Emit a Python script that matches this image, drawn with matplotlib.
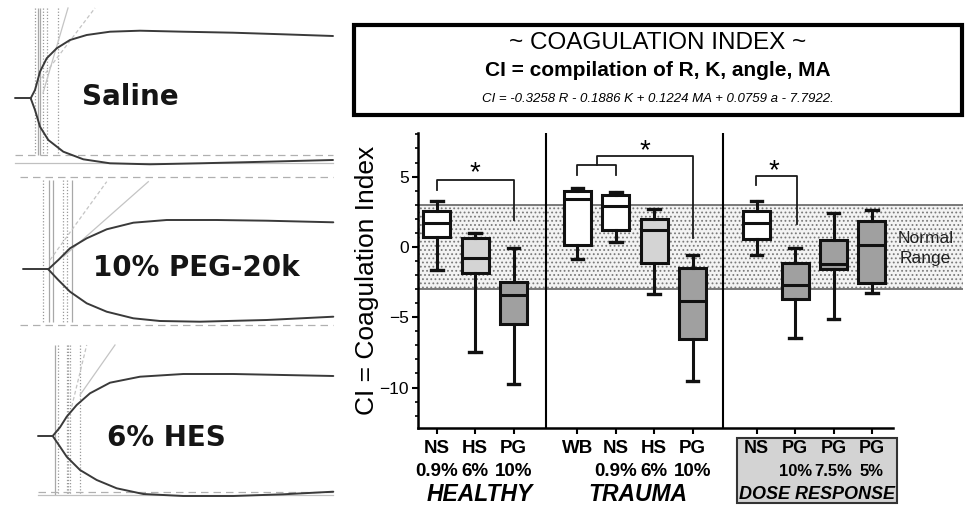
import matplotlib.pyplot as plt
from matplotlib import transforms
from matplotlib.patches import Rectangle

plt.rcParams['font.family'] = ['Liberation Sans', 'DejaVu Sans']
plt.rcParams['hatch.linewidth'] = 0.8

# ---- box plot data ----
fluids = ['NS', 'HS', 'PG', 'WB', 'NS', 'HS', 'PG', 'NS', 'PG', 'PG', 'PG']
doses = ['0.9%', '6%', '10%', '', '0.9%', '6%', '10%', '', '10%', '7.5%', '5%']
groups = ['HEALTHY', 'TRAUMA', 'DOSE RESPONSE']
whisker_hi = [3.24, 1.02, -0.07, 4.19, 3.90, 2.72, -0.59, 3.24, -0.07, 2.44, 2.60]
q3 = [2.53, 0.60, -2.48, 3.95, 3.71, 1.96, -1.49, 2.53, -1.13, 0.52, 1.82]
median = [1.70, -0.78, -3.42, 3.43, 2.89, 1.18, -3.83, 1.73, -2.72, -1.18, 0.17]
q1 = [0.67, -1.84, -5.50, 0.17, 1.21, -1.13, -6.57, 0.55, -3.73, -1.60, -2.60]
whisker_lo = [-1.65, -7.50, -9.76, -0.89, 0.36, -3.38, -9.57, -0.59, -6.45, -5.15, -3.31]
normal_range = (-3, 3)

# significance brackets and stars
bracket_x = [[1, 1, 3, 3], [4.66, 4.66, 5.66, 5.66], [5.16, 5.16, 7.66, 7.66], [9.3, 9.3, 10.37, 10.37]]
bracket_y = [[4.02, 4.78, 4.78, 1.90], [5.14, 5.80, 5.80, 5.14], [5.80, 6.46, 6.46, 0.64], [4.37, 5.04, 5.04, 1.66]]
star_x = [2.0, 6.42, 9.77]
star_y = [5.68, 7.25, 5.78]

# layout / style
positions = [1, 2, 3, 4.66, 5.66, 6.66, 7.66, 9.33, 10.33, 11.33, 12.33]
dividers = [3.84, 8.46]
box_fill = ['white', '#d4d4d4', '#a0a0a0', 'white', 'white', '#d4d4d4', '#a0a0a0',
            'white', '#a0a0a0', '#a0a0a0', '#a0a0a0']

# ---- TEG tracings (pixel coordinates) ----
saline_base = ([15, 30.7], [98.3, 98.3])
saline_up = ([30.7, 35, 40, 46.7, 56.7, 70, 86.7, 110, 140, 183, 233, 283, 333],
             [98.3, 90, 71.7, 58.3, 48.3, 40, 35, 31.7, 30.7, 31.7, 32.7, 34.3, 36])
saline_lo = ([30.7, 35, 40, 48.3, 63.3, 83.3, 110, 150, 200, 266.7, 333],
             [98.3, 110, 126.7, 140, 151.7, 159.3, 163.3, 164.3, 163.3, 161.7, 160])
peg_base = ([23.3, 48.3], [269.3, 269.3])
peg_up = ([48.3, 58.3, 70, 86.7, 106.7, 133.3, 166.7, 216.7, 266.7, 333.3],
          [269.3, 260, 248.3, 238.3, 229.3, 222.7, 220, 220, 220.7, 222.3])
peg_lo = ([48.3, 58.3, 70, 86.7, 106.7, 133.3, 160, 200, 266.7, 333.3],
          [269.3, 280, 291.7, 303.3, 311.7, 318.3, 321, 321.7, 320, 316.7])
hes_base = ([38.3, 52.7], [436, 436])
hes_up = ([52.7, 60, 66.7, 76.7, 90, 110, 140, 183.3, 233.3, 283.3, 333.3],
          [436, 427.3, 416.7, 405, 393.3, 382.7, 376.7, 374, 374, 375, 376])
hes_lo = ([52.7, 60, 66.7, 80, 96.7, 116.7, 143.3, 183.3, 233.3, 283.3, 333.3],
          [436, 446.7, 456.7, 470, 480, 488.3, 494, 496, 496, 494.3, 491.7])

teg_labels = ['Saline', '10% PEG-20k', '6% HES']
teg_label_xy = [(130, 96.7), (196.7, 268.3), (166.7, 438.3)]

# guide lines of the tracings: solid verticals, dotted verticals, y span
vert_solid = [[37.7, 40], [49.3, 53.3, 71.7], [55]]
vert_dotted = [[35, 43.3, 46.7, 58.3], [43.3, 63.3, 66.7], [58.3, 66.7, 68.3, 70, 80]]
vert_span = [(8, 155), (180, 321.7), (345, 495)]
hline_dashed = [([15, 333], 155), ([20, 333], 176.7), ([20, 333], 325), ([38, 333], 491.7)]
hline_solid = [([15, 333], 163.3), ([38, 333], 495)]
diag_solid = [([43, 68], [93, 8]), ([63.3, 148.3], [256.7, 181.7]), ([80, 115], [395, 345])]
diag_dashed = [([38, 95], [83, 8]), ([50, 106.7], [260, 181.7]), ([71.7, 86.7], [406.7, 345])]

fig = plt.figure(figsize=(9.65, 5.13), dpi=100)

# left side drawn in pixel space
axl = fig.add_axes([0, 0, 1, 1])
axl.set_xlim(0, 965)
axl.set_ylim(513, 0)
axl.axis('off')

for xs, (y0, y1) in zip(vert_solid, vert_span):
    axl.vlines(xs, y0, y1, color='#a8a8a8', lw=0.9)
for xs, (y0, y1) in zip(vert_dotted, vert_span):
    axl.vlines(xs, y0, y1, color='#9a9a9a', lw=0.9, linestyles=(0, (1, 1.5)))
for xs, y in hline_dashed:
    axl.plot(xs, [y, y], color='#b0b0b0', lw=0.9, ls=(0, (6, 4)))
for xs, y in hline_solid:
    axl.plot(xs, [y, y], color='#c0c0c0', lw=0.9)
for xs, ys in diag_solid:
    axl.plot(xs, ys, color='#c4c4c4', lw=0.9)
for xs, ys in diag_dashed:
    axl.plot(xs, ys, color='#c4c4c4', lw=0.9, ls=(0, (3, 2)))

for part in [saline_base, saline_up, saline_lo, peg_base, peg_up, peg_lo, hes_base, hes_up, hes_lo]:
    axl.plot(part[0], part[1], color='#3a3a3a', lw=1.4, solid_capstyle='round')

for lab, (x, y) in zip(teg_labels, teg_label_xy):
    axl.text(x, y, lab, fontsize=20, fontweight='bold', family='DejaVu Sans',
             color='#151515', ha='center', va='center')

# title box
axl.add_patch(Rectangle((354, 25), 608, 90, fc='white', ec='black', lw=3))
axl.text(658, 43.3, '~ COAGULATION INDEX ~', fontsize=17.5, ha='center', va='center')
axl.text(658, 70.5, 'CI = compilation of R, K, angle, MA', fontsize=15, fontweight='bold',
         ha='center', va='center')
axl.text(658, 99, 'CI = -0.3258 R - 0.1886 K + 0.1224 MA + 0.0759 a - 7.7922.',
         fontsize=9.5, style='italic', ha='center', va='center')

# ---- main box plot ----
ax = fig.add_axes([0.4335, 0.1651, 0.5644, 0.5756])
ax.patch.set_alpha(0)

ax.axhspan(normal_range[0], normal_range[1], facecolor='#f3f3f3', edgecolor='#7a7a7a',
           hatch='....', lw=0, zorder=0)
for y in normal_range:
    ax.axhline(y, color='#707070', lw=1.3, zorder=0.5)

stats = []
for i in range(len(fluids)):
    stats.append({'med': median[i], 'q1': q1[i], 'q3': q3[i],
                  'whislo': whisker_lo[i], 'whishi': whisker_hi[i], 'fliers': []})

bp = ax.bxp(stats, positions=positions, widths=0.7, patch_artist=True, showfliers=False,
            boxprops=dict(lw=2.2, edgecolor='#111111'),
            medianprops=dict(lw=2.2, color='#111111'),
            whiskerprops=dict(lw=2.2, color='#111111'),
            capprops=dict(lw=2.4, color='#111111'),
            capwidths=0.3, manage_ticks=False)
for patch, c in zip(bp['boxes'], box_fill):
    patch.set_facecolor(c)
    patch.set_zorder(2)

for d in dividers:
    ax.axvline(d, color='black', lw=1.5, zorder=1)

for bx, by in zip(bracket_x, bracket_y):
    ax.plot(bx, by, color='#1a1a1a', lw=1.3, zorder=3)
star_tr = transforms.offset_copy(ax.transData, fig=fig, y=-6, units='dots')
for sx, sy in zip(star_x, star_y):
    ax.text(sx, sy, '*', fontsize=20, ha='center', va='center', transform=star_tr)

ax.text(13.72, 0.63, 'Normal', fontsize=12.5, color='#222222', ha='center', va='center')
ax.text(13.72, -0.8, 'Range', fontsize=12.5, color='#222222', ha='center', va='center')

ax.set_xlim(0.52, 14.7)
ax.set_ylim(-12.9, 8.1)
ax.set_yticks([-10, -5, 0, 5])
ax.set_yticks(range(-12, 9), minor=True)
ax.set_xticks(positions)
ax.set_xticklabels([])
ax.tick_params(axis='y', which='major', length=4, width=1.5, labelsize=12.5, pad=3)
ax.tick_params(axis='y', which='minor', length=2.5, width=1.2)
ax.tick_params(axis='x', length=4, width=1.5)
for s in ['top', 'right']:
    ax.spines[s].set_visible(False)
ax.spines['left'].set_linewidth(1.8)
ax.spines['bottom'].set_linewidth(1.8)
ax.spines['bottom'].set_bounds(0.52, 12.89)

fig.text(367 / 965, 1 - 280 / 513, 'CI = Coagulation Index', fontsize=19, rotation=90,
         ha='center', va='center')

# category labels under the axis
trans = transforms.blended_transform_factory(ax.transData, fig.transFigure)
ax.add_patch(Rectangle((8.81, 0.0189), 4.17, 0.1267, transform=trans, clip_on=False,
                       fc='#d3d3d3', ec='#333333', lw=1.5, zorder=1))
for i, (p, f, d) in enumerate(zip(positions, fluids, doses)):
    small = i >= 7
    ax.text(p, 0.1261, f, transform=trans, fontsize=13 if small else 13.5, fontweight='bold',
            ha='center', va='center')
    if d:
        ax.text(p, 0.080 if small else 0.0805, d, transform=trans,
                fontsize=12 if small else 13.5, fontweight='bold', ha='center', va='center')

group_x = [2.13, 6.23, 10.9]
group_size = [16.5, 16.5, 13]
for gx, g, gs in zip(group_x, groups, group_size):
    ax.text(gx, 0.0355, g, transform=trans, fontsize=gs, fontweight='bold', style='italic',
            ha='center', va='center')

plt.savefig('out.png', dpi=100)
